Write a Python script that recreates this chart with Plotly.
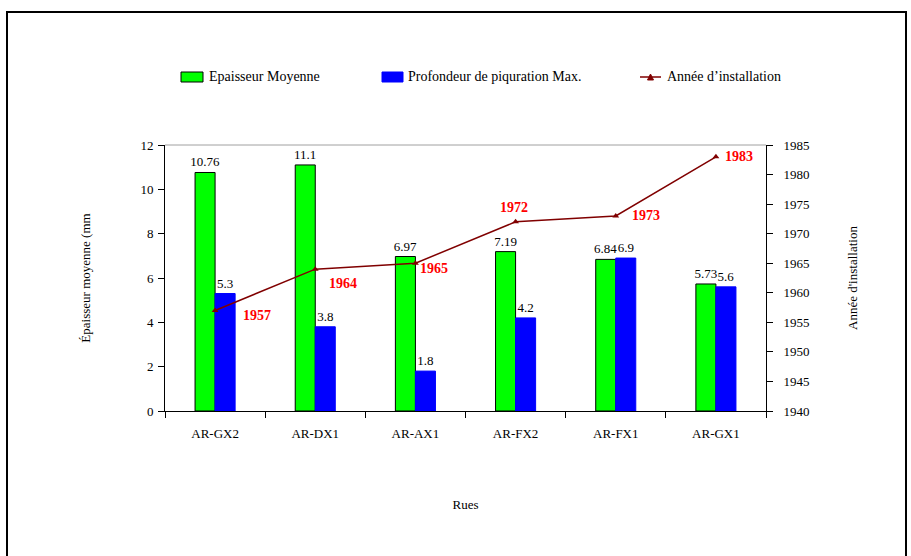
import plotly.graph_objects as go

categories = ["AR-GX2", "AR-DX1", "AR-AX1", "AR-FX2", "AR-FX1", "AR-GX1"]
epaisseur = [10.76, 11.1, 6.97, 7.19, 6.84, 5.73]
profondeur = [5.3, 3.8, 1.8, 4.2, 6.9, 5.6]
annee = [1957, 1964, 1965, 1972, 1973, 1983]
epaisseur_labels = ["10.76", "11.1", "6.97", "7.19", "6.84", "5.73"]
profondeur_labels = ["5.3", "3.8", "1.8", "4.2", "6.9", "5.6"]
# label offsets (pixels) for the year labels
year_shift = [(42, -5), (28, -14), (19, -5), (-2, 14), (30, 0), (23, 0)]

FONT = "Liberation Serif"

fig = go.Figure()
fig.add_trace(go.Bar(
    x=categories, y=epaisseur, name="Epaisseur Moyenne",
    marker=dict(color="#00FF00", line=dict(color="black", width=1)),
    text=epaisseur_labels, textposition="outside", constraintext="none",
    textfont=dict(family=FONT, size=13, color="black"),
    cliponaxis=False,
))
fig.add_trace(go.Bar(
    x=categories, y=profondeur, name="Profondeur de piquration Max.",
    marker=dict(color="#0000FF", line=dict(color="#0000FF", width=1)),
    text=profondeur_labels, textposition="outside", constraintext="none",
    textfont=dict(family=FONT, size=13, color="black"),
    cliponaxis=False,
))
fig.add_trace(go.Scatter(
    x=categories, y=annee, name="Année d’installation", yaxis="y2",
    mode="lines+markers",
    line=dict(color="#800000", width=1.5),
    marker=dict(symbol="triangle-up", size=6, color="#800000"),
    cliponaxis=False,
))

for c, yv, (dx, dy) in zip(categories, annee, year_shift):
    fig.add_annotation(
        x=c, y=yv, xref="x", yref="y2", text="<b>%d</b>" % yv,
        showarrow=False, xshift=dx, yshift=dy,
        font=dict(family=FONT, size=14, color="#FF0000"),
    )

L, R, T, B = 165, 145, 145, 145
W, H = 911, 556
pw, ph = W - L - R, H - T - B

def px(x):
    return (x - L) / pw

def py(y):
    return (H - B - y) / ph

shapes = []
# outer frame
shapes.append(dict(type="rect", xref="paper", yref="paper",
                   x0=px(7), x1=px(906), y0=py(600), y1=py(12),
                   line=dict(color="black", width=2)))
# top plot border
shapes.append(dict(type="line", xref="paper", yref="paper",
                   x0=0, x1=1, y0=1, y1=1, line=dict(color="#A0A0A0", width=1)))
# manual legend
shapes.append(dict(type="rect", xref="paper", yref="paper",
                   x0=px(181), x1=px(203), y0=py(82), y1=py(72),
                   fillcolor="#00FF00", line=dict(color="black", width=1)))
shapes.append(dict(type="rect", xref="paper", yref="paper",
                   x0=px(382), x1=px(403), y0=py(82), y1=py(72),
                   fillcolor="#0000FF", line=dict(color="#0000FF", width=1)))
shapes.append(dict(type="line", xref="paper", yref="paper",
                   x0=px(640), x1=px(661), y0=py(77), y1=py(77),
                   line=dict(color="#800000", width=1.5)))
shapes.append(dict(type="path", xref="paper", yref="paper",
                   path="M %f %f L %f %f L %f %f Z" % (px(647.5), py(80), px(653.5), py(80), px(650.5), py(74)),
                   fillcolor="#800000", line=dict(color="#800000", width=1)))

legend_items = [(207, "Epaisseur Moyenne"), (406, "Profondeur de piquration Max."), (665, "Année d’installation")]
for x0, t in legend_items:
    fig.add_annotation(xref="paper", yref="paper", x=px(x0), y=py(77),
                       xanchor="left", yanchor="middle", text=t, showarrow=False,
                       font=dict(family=FONT, size=14, color="black"))

fig.update_layout(
    width=W, height=H,
    margin=dict(l=L, r=R, t=T, b=B),
    paper_bgcolor="white", plot_bgcolor="white",
    barmode="group", bargap=0.6, bargroupgap=0,
    showlegend=False,
    font=dict(family=FONT, size=13, color="black"),
    shapes=shapes,
    xaxis=dict(
        showgrid=False, showline=True, linecolor="black", linewidth=1,
        ticks="outside", ticklen=6, tickcolor="black", tickson="boundaries",
        tickfont=dict(family=FONT, size=13), ticklabelstandoff=10,
        title=dict(text="Rues", font=dict(family=FONT, size=13), standoff=60),
    ),
    yaxis=dict(
        range=[0, 12], dtick=2, showgrid=False, zeroline=False,
        showline=True, linecolor="black", linewidth=1,
        ticks="outside", ticklen=6, tickcolor="black",
        tickfont=dict(family=FONT, size=13), ticklabelstandoff=2,
        title=dict(text="Épaisseur moyenne (mm", font=dict(family=FONT, size=13), standoff=46),
    ),
    yaxis2=dict(
        range=[1940, 1985], dtick=5, overlaying="y", side="right",
        showgrid=False, zeroline=False,
        showline=True, linecolor="black", linewidth=1,
        ticks="outside", ticklen=6, tickcolor="black",
        tickfont=dict(family=FONT, size=13), ticklabelstandoff=8,
        title=dict(text="Année d'installation", font=dict(family=FONT, size=13), standoff=39),
    ),
)

fig.write_html("out.html", config={"displayModeBar": False},
               post_script="document.body.style.margin='0';")
